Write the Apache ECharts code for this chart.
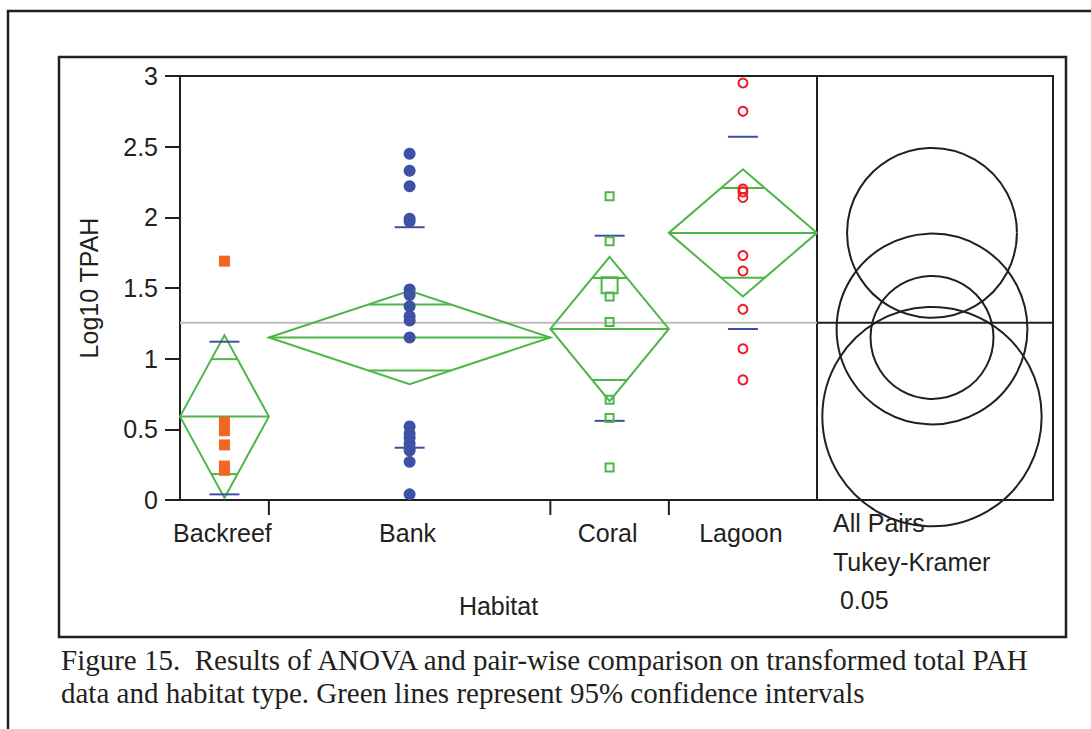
<!DOCTYPE html>
<html><head><meta charset="utf-8">
<script src="https://cdn.jsdelivr.net/npm/echarts/dist/echarts.min.js"></script>
<style>html,body{margin:0;padding:0;background:#fff;} #c{width:1091px;height:729px;}</style>
</head><body><div id="c"></div>
<script>
// ---- data ----
const categories = ['Backreef', 'Bank', 'Coral', 'Lagoon'];
const backreef = [1.69, 0.55, 0.49, 0.39, 0.24, 0.21];
const bank = [2.45, 2.33, 2.22, 1.99, 1.97, 1.49, 1.45, 1.37, 1.30, 1.27, 1.15, 0.52, 0.47, 0.44, 0.40, 0.37, 0.35, 0.27, 0.04];
const coral = [2.15, 1.83, 1.44, 1.26, 0.71, 0.58, 0.23];
const coralLarge = [1.52];
const lagoon = [2.95, 2.75, 2.20, 2.18, 2.14, 1.73, 1.62, 1.35, 1.07, 0.85];
const groupMeans = [0.59, 1.15, 1.21, 1.89];
const ci95Half = [0.575, 0.33, 0.51, 0.45];
const sdLow = [0.04, 0.37, 0.56, 1.21];
const sdHigh = [1.12, 1.93, 1.87, 2.57];
const grandMean = 1.255;
const circleRadius = [0.776, 0.435, 0.675, 0.601];
const yTicks = [0, 0.5, 1, 1.5, 2, 2.5, 3];
const yTitle = 'Log10 TPAH';
const xTitle = 'Habitat';
const compareLabels = ['All Pairs', 'Tukey-Kramer', ' 0.05'];
const caption = ['Figure 15.  Results of ANOVA and pair-wise comparison on transformed total PAH',
                 'data and habitat type. Green lines represent 95% confidence intervals'];

// ---- derived ----
const counts = [backreef.length, bank.length, coral.length + coralLarge.length, lagoon.length];
const starts = [];
let acc = 0;
counts.forEach(n => { starts.push(acc); acc += n; });
const total = acc;
const centers = counts.map((n, i) => starts[i] + n / 2);

const INK = '#231f20', GREEN = '#4cb748', BLUE = '#3d4fa1';
const SANS = 'Liberation Sans, Arial, sans-serif';
const SERIF = 'Liberation Serif, Times New Roman, serif';

const chart = echarts.init(document.getElementById('c'), null, {renderer: 'svg'});

function diamondItem(params, api) {
  const i = params.dataIndex;
  const s = starts[i], e = starts[i] + counts[i], c = centers[i];
  const m = groupMeans[i], h = ci95Half[i], o = h / Math.SQRT2;
  const L = api.coord([s, m]), R = api.coord([e, m]);
  const T = api.coord([c, m + h]), B = api.coord([c, m - h]);
  const halfW = (R[0] - L[0]) / 2;
  const cx = (R[0] + L[0]) / 2;
  const ov = halfW * (1 - 1 / Math.SQRT2);
  const y1 = api.coord([c, m + o])[1], y2 = api.coord([c, m - o])[1];
  const sd1 = api.coord([c, sdHigh[i]])[1], sd2 = api.coord([c, sdLow[i]])[1];
  const g = {stroke: GREEN, lineWidth: 2, fill: null};
  const b = {stroke: BLUE, lineWidth: 2, fill: null};
  return {type: 'group', children: [
    {type: 'polygon', shape: {points: [L, T, R, B]}, style: g},
    {type: 'line', shape: {x1: L[0], y1: L[1], x2: R[0], y2: R[1]}, style: g},
    {type: 'line', shape: {x1: cx - ov, y1: y1, x2: cx + ov, y2: y1}, style: g},
    {type: 'line', shape: {x1: cx - ov, y1: y2, x2: cx + ov, y2: y2}, style: g},
    {type: 'line', shape: {x1: cx - 15, y1: sd1, x2: cx + 15, y2: sd1}, style: b},
    {type: 'line', shape: {x1: cx - 15, y1: sd2, x2: cx + 15, y2: sd2}, style: b}
  ]};
}

function axisItem(params, api) {
  const i = params.dataIndex;
  const children = [];
  const base = api.coord([centers[i], 0]);
  children.push({type: 'text', style: {text: categories[i], x: base[0] - 2, y: base[1] + 33,
    align: 'center', verticalAlign: 'middle', font: '25px ' + SANS, fill: INK}});
  if (i > 0) {
    const p = api.coord([starts[i], 0]);
    children.push({type: 'line', shape: {x1: p[0], y1: p[1], x2: p[0], y2: p[1] + 15},
      style: {stroke: INK, lineWidth: 2}});
  }
  return {type: 'group', children};
}

function circleItem(params, api) {
  const i = params.dataIndex;
  const p = api.coord([0.5, groupMeans[i]]);
  const r = api.size([0, circleRadius[i]])[1];
  return {type: 'circle', shape: {cx: p[0] - 3, cy: p[1], r: r},
    style: {stroke: INK, lineWidth: 2, fill: null}};
}

const pts = (arr, i) => arr.map(v => [centers[i], v]);

const option = {
  backgroundColor: '#fff',
  animation: false,
  grid: [
    {left: 180, top: 76, width: 637, height: 424, show: true, borderColor: INK, borderWidth: 2, outerBoundsMode: 'none', containLabel: false},
    {left: 817, top: 76, width: 236, height: 424, show: true, borderColor: INK, borderWidth: 2, outerBoundsMode: 'none', containLabel: false}
  ],
  xAxis: [
    {type: 'value', gridIndex: 0, min: 0, max: total,
     axisLine: {show: true, onZero: false, lineStyle: {color: INK, width: 2}},
     axisTick: {show: false}, axisLabel: {show: false}, splitLine: {show: false},
     name: xTitle, nameLocation: 'middle', nameGap: 93,
     nameTextStyle: {fontSize: 25, fontFamily: SANS, color: INK}},
    {type: 'value', gridIndex: 1, min: 0, max: 1, show: false}
  ],
  yAxis: [
    {type: 'value', gridIndex: 0, min: 0, max: 3, interval: 0.5,
     axisLine: {show: true, onZero: false, lineStyle: {color: INK, width: 2}},
     axisTick: {show: true, inside: false, length: 15, lineStyle: {color: INK, width: 2}},
     axisLabel: {fontSize: 25, fontFamily: SANS, color: INK, margin: 22,
       formatter: v => String(yTicks.find(t => Math.abs(t - v) < 1e-9) ?? v)},
     splitLine: {show: false},
     name: yTitle, nameLocation: 'middle', nameGap: 79, nameRotate: 90,
     nameTextStyle: {fontSize: 25, fontFamily: SANS, color: INK}},
    {type: 'value', gridIndex: 1, min: 0, max: 3, show: false}
  ],
  graphic: [
    {type: 'rect', silent: true, shape: {x: 8, y: 11, width: 1300, height: 1000}, style: {stroke: INK, lineWidth: 2.5, fill: null}},
    {type: 'rect', silent: true, shape: {x: 59, y: 57, width: 1007, height: 580}, style: {stroke: INK, lineWidth: 2.5, fill: null}},
    {type: 'text', left: 833, top: 510, style: {text: compareLabels[0], font: '25px ' + SANS, fill: INK}},
    {type: 'text', left: 833, top: 549, style: {text: compareLabels[1], font: '25px ' + SANS, fill: INK}},
    {type: 'text', left: 833, top: 587, style: {text: compareLabels[2], font: '25px ' + SANS, fill: INK}},
    {type: 'text', left: 61, top: 645, style: {text: caption[0], font: '29px ' + SERIF, fill: INK}},
    {type: 'text', left: 61, top: 678, style: {text: caption[1], font: '29px ' + SERIF, fill: INK}}
  ],
  series: [
    {type: 'line', xAxisIndex: 0, yAxisIndex: 0, data: [[0, grandMean], [total, grandMean]],
     showSymbol: false, lineStyle: {color: '#bdbdbd', width: 2}, silent: true, z: 1},
    {type: 'line', xAxisIndex: 1, yAxisIndex: 1, data: [[0, grandMean], [1, grandMean]],
     showSymbol: false, lineStyle: {color: INK, width: 2}, silent: true, z: 1},
    {type: 'custom', xAxisIndex: 0, yAxisIndex: 0, data: categories.map((c, i) => i),
     renderItem: diamondItem, clip: false, silent: true, z: 2},
    {type: 'custom', xAxisIndex: 0, yAxisIndex: 0, data: categories.map((c, i) => i),
     renderItem: axisItem, clip: false, silent: true, z: 2},
    {type: 'custom', xAxisIndex: 1, yAxisIndex: 1, data: categories.map((c, i) => i),
     renderItem: circleItem, clip: false, silent: true, z: 3},
    {type: 'scatter', name: 'Backreef', data: pts(backreef, 0), symbol: 'rect', symbolSize: 11,
     itemStyle: {color: '#f26522', opacity: 1}, silent: true, z: 4},
    {type: 'scatter', name: 'Bank', data: pts(bank, 1), symbol: 'circle', symbolSize: 12,
     itemStyle: {color: '#3f51a5', opacity: 1}, silent: true, z: 4},
    {type: 'scatter', name: 'Coral', data: pts(coral, 2), symbol: 'rect', symbolSize: 8,
     itemStyle: {color: 'rgba(255,255,255,0)', borderColor: GREEN, borderWidth: 2, opacity: 1}, silent: true, z: 4},
    {type: 'scatter', name: 'Coral', data: pts(coralLarge, 2), symbol: 'rect', symbolSize: 16,
     itemStyle: {color: 'rgba(255,255,255,0)', borderColor: GREEN, borderWidth: 2, opacity: 1}, silent: true, z: 4},
    {type: 'scatter', name: 'Lagoon', data: pts(lagoon, 3), symbol: 'circle', symbolSize: 9,
     itemStyle: {color: 'rgba(255,255,255,0)', borderColor: '#ed1c24', borderWidth: 2, opacity: 1}, silent: true, z: 4}
  ]
};
chart.setOption(option);
</script>
</body></html>
